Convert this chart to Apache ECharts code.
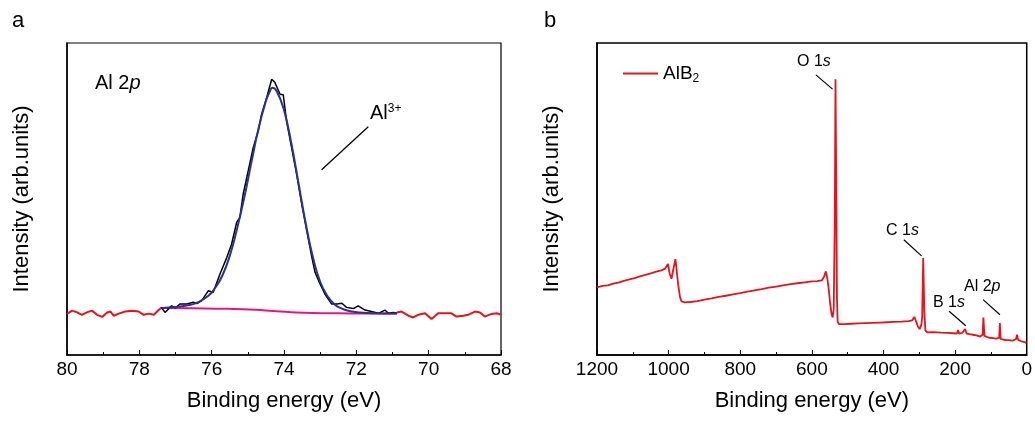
<!DOCTYPE html>
<html>
<head>
<meta charset="utf-8">
<title>XPS Al 2p / survey</title>
<script src="https://cdn.jsdelivr.net/npm/echarts@6/dist/echarts.min.js"></script>
<style>
  html, body { margin: 0; padding: 0; background: #fff; }
  #main { width: 1035px; height: 434px; }
</style>
</head>
<body>
<div id="main"></div>
<script>
// ---- panel a : Al 2p high resolution ----
// background noise outside the fit window (high BE side / low BE side)
const noiseHighE = [80.00, 79.86, 79.72, 79.59, 79.45, 79.31, 79.17, 79.03, 78.89, 78.80, 78.71, 78.57, 78.39, 78.20, 78.02, 77.88, 77.74, 77.60, 77.46, 77.37]
const noiseHighI = [9.0, 10.1, 9.5, 8.7, 9.5, 10.1, 8.7, 8.0, 9.5, 9.8, 8.4, 9.1, 9.8, 10.1, 9.8, 8.7, 9.1, 8.7, 10.4, 11.2]
const noiseLowE = [70.88, 70.75, 70.56, 70.43, 70.29, 70.10, 69.92, 69.74, 69.55, 69.37, 69.23, 69.04, 68.91, 68.72, 68.58, 68.45, 68.26, 68.12, 68.00]
const noiseLowI = [9.5, 9.8, 8.4, 7.8, 8.7, 9.2, 7.3, 9.2, 9.2, 9.2, 8.1, 8.4, 8.7, 9.8, 9.5, 8.1, 9.0, 9.2, 8.7]

// raw data inside the fit window
const rawE = [77.39, 77.29, 77.11, 77.01, 76.88, 76.69, 76.51, 76.41, 76.28, 76.09, 75.96, 75.77, 75.58, 75.45, 75.31, 75.22, 75.13, 74.99, 74.85, 74.71, 74.62, 74.48, 74.34, 74.25, 74.11, 74.02, 73.93, 73.79, 73.65, 73.51, 73.37, 73.23, 73.14, 73.00, 72.87, 72.68, 72.54, 72.40, 72.27, 72.08, 71.95, 71.76, 71.58, 71.39, 71.21, 71.11, 70.98, 70.88]
const rawI = [11.2, 9.5, 11.7, 11.0, 12.3, 12.3, 12.9, 12.5, 13.4, 16.8, 16.2, 22.4, 28.0, 32.4, 39.7, 41.4, 49.2, 57.0, 64.9, 70.5, 76.1, 81.6, 87.8, 86.7, 82.8, 82.6, 73.8, 64.9, 55.9, 45.9, 36.9, 28.0, 22.9, 19.0, 15.7, 12.3, 12.3, 12.6, 11.2, 10.8, 11.7, 10.3, 9.8, 9.2, 10.3, 9.2, 9.5, 9.2]

// fitted Al3+ component
const fitE = [77.37, 77.0, 76.7, 76.4, 76.1, 75.9, 75.7, 75.5, 75.3, 75.1, 74.9, 74.7, 74.5, 74.4, 74.32, 74.2, 74.0, 73.8, 73.6, 73.4, 73.2, 73.0, 72.8, 72.6, 72.4, 72.2, 71.9, 71.5, 71.0, 70.88]
const fitI = [11.0, 11.3, 11.8, 12.8, 15.0, 17.8, 22.0, 28.5, 37.5, 48.0, 60.0, 71.5, 80.5, 83.5, 85.0, 83.8, 77.5, 66.5, 53.0, 39.5, 28.0, 19.8, 15.0, 12.2, 10.8, 10.0, 9.5, 9.2, 9.1, 9.1]

// Shirley background
const bgE = [77.37, 76.5, 75.5, 74.8, 74.3, 73.8, 73.2, 72.5, 71.5, 70.88]
const bgI = [11.0, 10.9, 10.7, 10.4, 10.0, 9.6, 9.3, 9.2, 9.1, 9.1]

// ---- panel b : survey spectrum ----
const surveyE = [1200, 1185, 1170, 1155, 1140, 1125, 1110, 1095, 1080, 1065, 1050, 1035, 1020, 1010, 1002, 997, 992, 986, 981, 977, 973, 968, 964, 955, 940, 920, 900, 880, 860, 840, 820, 800, 780, 760, 740, 720, 700, 680, 660, 640, 620, 600, 585, 572, 566, 561, 557, 553, 549, 545, 542, 539, 536, 534, 532, 530, 528, 525, 510, 490, 470, 450, 430, 410, 390, 370, 350, 330, 320, 314, 309, 304, 299, 294, 292, 289, 286, 283, 278, 260, 240, 220, 205, 195, 192, 189, 180, 172, 168, 160, 150, 140, 130, 123, 121, 118, 114, 105, 94, 85, 77, 75, 73, 70, 60, 50, 40, 30, 27, 24, 15, 8, 1, 0]
const surveyI = [17.9, 18.4, 18.6, 19.2, 19.5, 20.1, 20.6, 21.0, 21.6, 22.1, 22.6, 23.2, 23.6, 24.2, 25.8, 22.5, 20.8, 24.5, 27.4, 23.0, 18.5, 14.5, 13.2, 12.9, 13.0, 13.3, 13.8, 14.2, 14.7, 15.1, 15.6, 16.0, 16.5, 16.9, 17.3, 17.8, 18.2, 18.6, 19.0, 19.3, 19.6, 19.9, 20.0, 20.3, 21.5, 23.3, 21.0, 17.5, 12.5, 9.0, 7.8, 10.5, 40.0, 87.8, 55.0, 15.0, 6.5, 5.6, 5.6, 5.7, 5.8, 5.9, 6.0, 6.1, 6.2, 6.3, 6.4, 6.6, 6.8, 8.0, 6.5, 4.8, 3.9, 5.5, 8.0, 27.8, 10.0, 3.5, 2.8, 2.9, 2.7, 2.6, 2.5, 2.4, 3.6, 2.4, 2.6, 3.9, 2.4, 2.2, 2.0, 1.8, 1.4, 2.0, 7.8, 1.6, 1.3, 1.0, 0.9, 0.7, 1.0, 5.9, 0.6, 0.3, 0.2, 0.2, 0.0, 0.5, 2.0, 0.3, -0.2, -0.4, -0.7, -0.8]

const zip = (xs, ys) => xs.map((x, i) => [x, ys[i]])

const FONT = 'Liberation Sans, Arial, sans-serif'
const RED = '#e3141d'

function xAxisOf (gridIndex, min, max, interval) {
  return {
    gridIndex: gridIndex,
    type: 'value',
    inverse: true,
    min: min,
    max: max,
    interval: interval,
    name: 'Binding energy (eV)',
    nameLocation: 'middle',
    nameGap: 35,
    nameTextStyle: { fontFamily: FONT, fontSize: 22, color: '#000' },
    axisLine: { show: true, onZero: false, lineStyle: { color: '#000', width: 1.5 } },
    axisTick: { show: true, inside: true, length: 5, lineStyle: { color: '#000' } },
    minorTick: { show: true, splitNumber: 2, length: 3, lineStyle: { color: '#000' } },
    axisLabel: { margin: 5, fontFamily: FONT, fontSize: 19, color: '#000', formatter: function (v) { return String(v) } },
    splitLine: { show: false }
  }
}

function yAxisOf (gridIndex) {
  return {
    gridIndex: gridIndex,
    type: 'value',
    min: -4.8,
    max: 100,
    name: 'Intensity (arb.units)',
    nameLocation: 'middle',
    nameGap: 34,
    nameTextStyle: { fontFamily: FONT, fontSize: 22, color: '#000' },
    axisLine: { show: true, onZero: false, lineStyle: { color: '#000', width: 1.5 } },
    axisTick: { show: false },
    axisLabel: { show: false },
    splitLine: { show: false }
  }
}

function pointer (from, to) {
  return [{ coord: from }, { coord: to }]
}

function label (x, y, size, text, rich) {
  return {
    type: 'text',
    x: x,
    y: y,
    style: { text: text, font: size + 'px ' + FONT, fill: '#000', verticalAlign: 'middle', rich: rich || {} }
  }
}

const italic = (size) => ({ it: { fontStyle: 'italic', fontSize: size, fontFamily: FONT } })

var myChart = echarts.init(document.getElementById('main'))

var option = {
  animation: false,
  backgroundColor: '#fff',
  textStyle: { fontFamily: FONT },
  grid: [
    { left: 67, right: 534, top: 43, bottom: 79, show: true, borderColor: '#000', borderWidth: 1.2 },
    { left: 597, right: 8, top: 43, bottom: 79, show: true, borderColor: '#000', borderWidth: 1.5 }
  ],
  xAxis: [xAxisOf(0, 68, 80, 2), xAxisOf(1, 0, 1200, 200)],
  yAxis: [yAxisOf(0), yAxisOf(1)],
  legend: {
    data: ['AlB2'],
    left: 623,
    top: 64,
    padding: 0,
    icon: 'rect',
    itemWidth: 35,
    itemHeight: 2,
    itemStyle: { color: RED },
    textStyle: {
      fontFamily: FONT,
      fontSize: 19,
      color: '#000',
      rich: {
        m: { fontSize: 19, lineHeight: 22, fontFamily: FONT },
        sub: { fontSize: 12, lineHeight: 12, verticalAlign: 'bottom', fontFamily: FONT }
      }
    },
    formatter: function () { return '{m|AlB}{sub|2}' }
  },
  graphic: [
    label(12, 21, 22, 'a'),
    label(544, 21, 22, 'b'),
    label(95, 83, 20, 'Al 2{it|p}', italic(20)),
    label(370, 113, 20, 'Al{sup|3+}', { sup: { fontSize: 12, fontFamily: FONT, verticalAlign: 'top', lineHeight: 12 } }),
    label(797, 62, 16, 'O 1{it|s}', italic(16)),
    label(886, 231, 16, 'C 1{it|s}', italic(16)),
    label(933, 303, 16, 'B 1{it|s}', italic(16)),
    label(964, 287, 16, 'Al 2{it|p}', italic(16))
  ],
  series: [
    {
      name: 'noise-high', type: 'line', xAxisIndex: 0, yAxisIndex: 0, showSymbol: false, symbol: 'none',
      lineStyle: { color: RED, width: 2 }, data: zip(noiseHighE, noiseHighI)
    },
    {
      name: 'noise-low', type: 'line', xAxisIndex: 0, yAxisIndex: 0, showSymbol: false, symbol: 'none',
      lineStyle: { color: RED, width: 2 }, data: zip(noiseLowE, noiseLowI)
    },
    {
      name: 'background', type: 'line', xAxisIndex: 0, yAxisIndex: 0, showSymbol: false, symbol: 'none', smooth: true,
      lineStyle: { color: '#e4177f', width: 2 }, data: zip(bgE, bgI)
    },
    {
      name: 'raw', type: 'line', xAxisIndex: 0, yAxisIndex: 0, showSymbol: false, symbol: 'none',
      lineStyle: { color: '#000', width: 1.5 }, data: zip(rawE, rawI)
    },
    {
      name: 'Al3+', type: 'line', xAxisIndex: 0, yAxisIndex: 0, showSymbol: false, symbol: 'none', smooth: true,
      lineStyle: { color: '#2e3192', width: 2 }, data: zip(fitE, fitI),
      markLine: {
        silent: true, symbol: 'none', label: { show: false },
        lineStyle: { color: '#000', width: 1.3, type: 'solid' },
        data: [pointer([72.96, 57.4], [71.67, 71.9])]
      }
    },
    {
      name: 'AlB2', type: 'line', xAxisIndex: 1, yAxisIndex: 1, showSymbol: false, symbol: 'none',
      lineStyle: { color: RED, width: 1.8 }, itemStyle: { color: RED }, data: zip(surveyE, surveyI),
      markLine: {
        silent: true, symbol: 'none', label: { show: false },
        lineStyle: { color: '#000', width: 1.2, type: 'solid' },
        data: [
          pointer([588.8, 89.3], [542.2, 84.5]),
          pointer([343.2, 33.9], [293.8, 28.5]),
          pointer([216.7, 9.9], [170.2, 5.0]),
          pointer([121.8, 13.8], [74.8, 8.7])
        ]
      }
    }
  ]
}

myChart.setOption(option)
</script>
</body>
</html>
